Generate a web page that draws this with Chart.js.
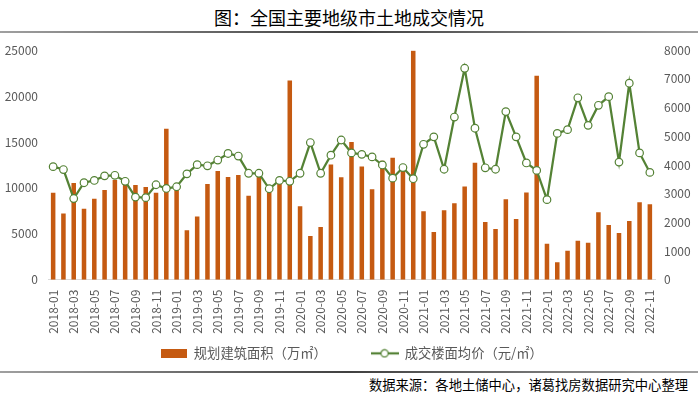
<!DOCTYPE html>
<html>
<head>
<meta charset="utf-8">
<script src="https://cdn.jsdelivr.net/npm/chart.js@4.4.0/dist/chart.umd.min.js"></script>
<style>
html, body { margin: 0; padding: 0; background: #fff; }
#wrap { position: relative; width: 698px; height: 397px; overflow: hidden; font-family: 'Noto Sans CJK SC', sans-serif; }
#title { position: absolute; left: 0; top: 4px; width: 698px; text-align: center; font-size: 18px; line-height: 26px; color: #000; }
.rule { position: absolute; left: 0; width: 698px; height: 2px; background: linear-gradient(to right, #a0a0a0, #404040 50%, #a0a0a0); }
#box { position: absolute; left: 0; top: 33px; width: 698px; height: 338px; }
#src { position: absolute; right: 10px; top: 376px; font-size: 13.3px; line-height: 18px; color: #000; }
</style>
</head>
<body>
<div id="wrap">
  <div id="title">图：全国主要地级市土地成交情况</div>
  <div class="rule" style="top:31px"></div>
  <div id="box"><canvas id="chart1" width="698" height="338"></canvas></div>
  <div class="rule" style="top:371px"></div>
  <div id="src">数据来源：各地土储中心，诸葛找房数据研究中心整理</div>
</div>
<script>
var months = [
    '2018-01','2018-02','2018-03','2018-04','2018-05','2018-06','2018-07','2018-08','2018-09','2018-10','2018-11','2018-12',
    '2019-01','2019-02','2019-03','2019-04','2019-05','2019-06','2019-07','2019-08','2019-09','2019-10','2019-11','2019-12',
    '2020-01','2020-02','2020-03','2020-04','2020-05','2020-06','2020-07','2020-08','2020-09','2020-10','2020-11','2020-12',
    '2021-01','2021-02','2021-03','2021-04','2021-05','2021-06','2021-07','2021-08','2021-09','2021-10','2021-11','2021-12',
    '2022-01','2022-02','2022-03','2022-04','2022-05','2022-06','2022-07','2022-08','2022-09','2022-10','2022-11'
]

// 规划建筑面积（万㎡）
var areaData = [
    9460, 7200, 10540, 7740, 8820, 9780, 10860, 10500, 10320, 10100, 9460, 16450,
    10000, 5380, 6880, 10430, 11830, 11180, 11400, 9140, 11300, 9700, 10500, 21700,
    8000, 4770, 5740, 12550, 11150, 15000, 12320, 9840, 12960, 13290, 12000, 24930,
    7470, 5200, 7570, 8330, 10160, 12750, 6280, 5530, 8760, 6600, 9510, 22230,
    3910, 1900, 3160, 4230, 4020, 7360, 5960, 5100, 6390, 8440, 8220
]

// 成交楼面均价（元/㎡）
var priceData = [
    3940, 3840, 2830, 3380, 3460, 3620, 3640, 3430, 2880, 2860, 3310, 3180,
    3240, 3690, 4010, 3970, 4170, 4400, 4310, 3710, 3710, 3170, 3460, 3430,
    3710, 4780, 3710, 4340, 4870, 4420, 4370, 4280, 4000, 3540, 3910, 3520,
    4720, 4980, 3850, 5670, 7370, 5280, 3900, 3850, 5860, 4980, 4070, 3810,
    2790, 5100, 5230, 6340, 5380, 6080, 6380, 4100, 6850, 4420, 3740
]

var leftTicks = [0, 5000, 10000, 15000, 20000, 25000]
var rightTicks = [0, 1000, 2000, 3000, 4000, 5000, 6000, 7000, 8000]

var barColor = '#C55A11'
var lineColor = '#548235'
var tickColor = '#595959'

Chart.defaults.font.family = "'Noto Sans CJK SC', 'Liberation Sans', sans-serif"
Chart.defaults.font.size = 12

// legend icons
function makeIcon(kind) {
    var c = document.createElement('canvas')
    var g
    if (kind === 'bar') {
        c.width = 26; c.height = 9
        g = c.getContext('2d')
        g.fillStyle = barColor
        g.fillRect(0, 0, 26, 9)
    } else {
        c.width = 28; c.height = 10
        g = c.getContext('2d')
        g.strokeStyle = lineColor
        g.lineWidth = 2.25
        g.beginPath(); g.moveTo(0, 5); g.lineTo(28, 5); g.stroke()
        g.beginPath(); g.arc(14, 5, 3.6, 0, Math.PI * 2)
        g.fillStyle = '#fff'; g.fill()
        g.lineWidth = 1.2; g.stroke()
    }
    return c
}
var icons = [makeIcon('bar'), makeIcon('line')]

var dataChart1 = {
    labels: months,
    datasets: [
        {
            type: 'bar',
            label: '规划建筑面积（万㎡）',
            data: areaData,
            backgroundColor: barColor,
            barPercentage: 0.55,
            categoryPercentage: 0.8,
            yAxisID: 'y',
            order: 2
        },
        {
            type: 'line',
            label: '成交楼面均价（元/㎡）',
            data: priceData,
            borderColor: lineColor,
            borderWidth: 2.25,
            pointRadius: 3.8,
            pointBackgroundColor: '#fff',
            pointBorderColor: lineColor,
            pointBorderWidth: 1.2,
            tension: 0,
            yAxisID: 'y1',
            order: 1
        }
    ]
}

var configChart1 = {
    type: 'bar',
    data: dataChart1,
    options: {
        responsive: false,
        animation: false,
        layout: { padding: { top: 14, bottom: 1, left: 0, right: 0 } },
        scales: {
            x: {
                offset: true,
                grid: { display: false, drawTicks: false },
                border: { display: true, color: '#d9d9d9', width: 1 },
                ticks: {
                    autoSkip: false,
                    minRotation: 90,
                    maxRotation: 90,
                    padding: 10,
                    color: tickColor,
                    callback: function(value, index) {
                        return index % 2 === 0 ? months[index] : null
                    }
                },
                afterFit: function(scale) { scale.height = 56 }
            },
            y: {
                position: 'left',
                min: leftTicks[0],
                max: leftTicks[leftTicks.length - 1],
                grid: { display: false, drawTicks: false },
                border: { display: false },
                ticks: {
                    stepSize: 5000, padding: 10, color: tickColor,
                    callback: function(value) { return String(value) }
                },
                afterFit: function(scale) { scale.width = 48 }
            },
            y1: {
                position: 'right',
                min: rightTicks[0],
                max: rightTicks[rightTicks.length - 1],
                grid: { display: false, drawTicks: false },
                border: { display: false },
                ticks: {
                    stepSize: 1000, padding: 9, color: tickColor,
                    callback: function(value) { return String(value) }
                },
                afterFit: function(scale) { scale.width = 43 }
            }
        },
        plugins: {
            tooltip: { enabled: false },
            legend: {
                position: 'bottom',
                fullSize: false,
                labels: {
                    usePointStyle: true,
                    pointStyleWidth: 27,
                    padding: 11,
                    color: tickColor,
                    font: { size: 13.3 },
                    sort: function(a, b) { return a.datasetIndex - b.datasetIndex },
                    generateLabels: function(chart) {
                        var items = Chart.defaults.plugins.legend.labels.generateLabels(chart)
                        items.forEach(function(it) {
                            it.pointStyle = icons[it.datasetIndex]
                            // wide gap between the two legend entries
                            if (it.datasetIndex === 0) it.text += '\u3000\u3000\u3000'
                        })
                        return items
                    }
                }
            }
        }
    }
}

var chart1 = new Chart(document.getElementById('chart1'), configChart1)
</script>
</body>
</html>
